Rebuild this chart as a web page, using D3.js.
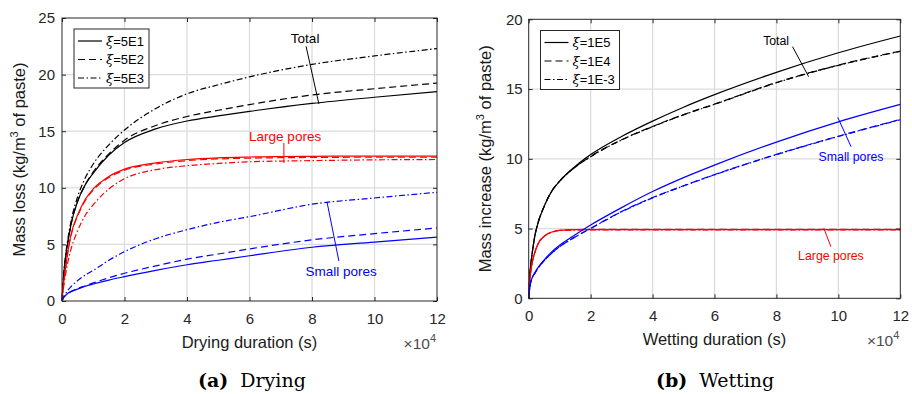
<!DOCTYPE html>
<html>
<head>
<meta charset="utf-8">
<script src="https://cdn.jsdelivr.net/npm/d3@7"></script>
<style>
  body { margin: 0; background: #fff; }
  svg { display: block; font-family: "Liberation Sans", Arial, sans-serif; }
</style>
</head>
<body>
<svg id="chart" width="912" height="394"></svg>
<script>
// time axis, units of 1e4 s
let timeGrid = [0, 0.05, 0.1, 0.2, 0.3, 0.5, 0.75, 1, 1.5, 2, 3, 4, 5, 6, 8, 10, 12];

// (a) drying, mass loss (kg/m3)
let dryTotal5E1 = [0, 2.2, 3.5, 5.4, 6.9, 8.8, 10.3, 11.3, 12.9, 14.0, 15.2, 15.9, 16.35, 16.75, 17.45, 18.0, 18.5];
let dryTotal5E2 = [0, 2.2, 3.5, 5.4, 6.9, 8.8, 10.3, 11.4, 13.0, 14.2, 15.5, 16.3, 16.85, 17.35, 18.2, 18.75, 19.25];
let dryTotal5E3 = [0, 2.3, 3.7, 5.7, 7.2, 9.2, 10.9, 12.1, 13.8, 15.1, 17.0, 18.3, 19.1, 19.8, 20.9, 21.65, 22.3];
let dryLarge5E1 = [0, 1.5, 2.6, 4.6, 6.0, 7.6, 9.0, 9.9, 11.0, 11.65, 12.2, 12.5, 12.65, 12.72, 12.78, 12.8, 12.8];
let dryLarge5E2 = [0, 1.5, 2.6, 4.5, 5.9, 7.5, 8.9, 9.8, 10.9, 11.55, 12.1, 12.4, 12.55, 12.62, 12.68, 12.7, 12.7];
let dryLarge5E3 = [0, 1.2, 2.1, 3.6, 4.7, 6.2, 7.6, 8.5, 9.9, 10.8, 11.6, 11.95, 12.15, 12.3, 12.4, 12.47, 12.5];
let drySmall5E1 = [0, 0.3, 0.45, 0.7, 0.85, 1.05, 1.3, 1.5, 1.85, 2.15, 2.7, 3.2, 3.6, 4.0, 4.75, 5.2, 5.65];
let drySmall5E2 = [0, 0.3, 0.45, 0.7, 0.85, 1.1, 1.35, 1.6, 2.05, 2.45, 3.1, 3.7, 4.15, 4.6, 5.4, 5.95, 6.45];
let drySmall5E3 = [0, 0.35, 0.6, 1.0, 1.3, 1.8, 2.3, 2.7, 3.6, 4.36, 5.5, 6.3, 6.95, 7.45, 8.55, 9.1, 9.6];

// (b) wetting, mass increase (kg/m3)
let wetTotal1E5 = [0, 2.0, 3.0, 4.5, 5.4, 6.6, 7.7, 8.4, 9.45, 10.3, 11.6, 12.7, 13.7, 14.6, 16.2, 17.6, 18.8];
let wetTotal1E4 = [0, 2.0, 3.0, 4.5, 5.4, 6.6, 7.7, 8.4, 9.4, 10.17, 11.37, 12.32, 13.17, 13.92, 15.47, 16.72, 17.72];
let wetTotal1Em3 = [0, 2.0, 3.0, 4.5, 5.4, 6.6, 7.7, 8.4, 9.4, 10.15, 11.35, 12.3, 13.15, 13.9, 15.45, 16.7, 17.7];
let wetLarge1E5 = [0, 1.6, 2.4, 3.3, 3.9, 4.45, 4.75, 4.87, 4.92, 4.93, 4.93, 4.93, 4.93, 4.93, 4.93, 4.93, 4.93];
let wetLarge1E4 = [0, 1.6, 2.4, 3.3, 3.9, 4.45, 4.76, 4.88, 4.93, 4.95, 4.95, 4.95, 4.95, 4.95, 4.95, 4.95, 4.95];
let wetLarge1Em3 = [0, 1.6, 2.4, 3.3, 3.9, 4.44, 4.73, 4.85, 4.89, 4.9, 4.9, 4.9, 4.9, 4.9, 4.9, 4.9, 4.9];
let wetSmall1E5 = [0, 1.0, 1.4, 1.85, 2.2, 2.75, 3.35, 3.8, 4.55, 5.25, 6.5, 7.65, 8.65, 9.55, 11.2, 12.65, 13.9];
let wetSmall1E4 = [0, 1.0, 1.4, 1.8, 2.15, 2.7, 3.25, 3.7, 4.4, 5.02, 6.22, 7.22, 8.07, 8.87, 10.32, 11.62, 12.82];
let wetSmall1Em3 = [0, 1.0, 1.4, 1.8, 2.15, 2.7, 3.25, 3.7, 4.4, 5.0, 6.2, 7.2, 8.05, 8.85, 10.3, 11.6, 12.8];

let xTicks = [0, 2, 4, 6, 8, 10, 12];
let dryYTicks = [0, 5, 10, 15, 20, 25];
let wetYTicks = [0, 5, 10, 15, 20];
let dryLegend = ['5E1', '5E2', '5E3'];
let wetLegend = ['1E5', '1E4', '1E-3'];

let dashes = ['none', '7,4', '6,2.5,1.5,2.5'];

let svg = d3.select('#chart');

let drawPanel = function(opt){
  let x = d3.scaleLinear().domain([0, 12]).range([opt.left, opt.right]);
  let y = d3.scaleLinear().domain([0, opt.yMax]).range([opt.bottom, opt.top]);
  let g = svg.append('g');

  // grid
  g.selectAll('.vgrid').data(xTicks.slice(1, -1)).enter().append('line')
    .attr('x1', d => x(d)).attr('x2', d => x(d))
    .attr('y1', opt.top).attr('y2', opt.bottom)
    .attr('stroke', '#dcdcdc').attr('stroke-width', 1.3);
  g.selectAll('.hgrid').data(opt.yTicks.slice(1, -1)).enter().append('line')
    .attr('y1', d => y(d)).attr('y2', d => y(d))
    .attr('x1', opt.left).attr('x2', opt.right)
    .attr('stroke', '#dcdcdc').attr('stroke-width', 1.3);

  // curves
  let line = d3.line().x((d, i) => x(timeGrid[i])).y(d => y(d)).curve(d3.curveMonotoneX);
  opt.series.forEach(s => {
    g.append('path').datum(s.values)
      .attr('d', line)
      .attr('fill', 'none')
      .attr('stroke', s.color)
      .attr('stroke-width', 1.2)
      .attr('stroke-dasharray', s.dash);
  });

  // axes, MATLAB style inward ticks on all sides
  let ax = g.append('g').attr('transform', 'translate(0,' + opt.bottom + ')')
    .call(d3.axisBottom(x).tickValues(xTicks).tickSize(-4).tickPadding(12).tickFormat(d3.format('d')));
  let ay = g.append('g').attr('transform', 'translate(' + opt.left + ',0)')
    .call(d3.axisLeft(y).tickValues(opt.yTicks).tickSize(-4).tickPadding(opt.yPad));
  let at = g.append('g').attr('transform', 'translate(0,' + opt.top + ')')
    .call(d3.axisTop(x).tickValues(xTicks).tickSize(-4).tickFormat(''));
  let ar = g.append('g').attr('transform', 'translate(' + opt.right + ',0)')
    .call(d3.axisRight(y).tickValues(opt.yTicks).tickSize(-4).tickFormat(''));
  [ax, ay, at, ar].forEach(a => {
    a.select('.domain').remove();
    a.selectAll('line').attr('stroke', '#262626');
    a.selectAll('text').attr('fill', '#262626').style('font-size', '15px').style('font-family', '"Liberation Sans", Arial, sans-serif');
  });
  g.append('rect')
    .attr('x', opt.left).attr('y', opt.top)
    .attr('width', opt.right - opt.left).attr('height', opt.bottom - opt.top)
    .attr('fill', 'none').attr('stroke', '#262626').attr('stroke-width', 1);

  // axis titles
  g.append('text')
    .attr('x', (opt.left + opt.right) / 2).attr('y', opt.bottom + 47)
    .attr('text-anchor', 'middle').style('font-size', '16.5px').attr('fill', '#1a1a1a')
    .text(opt.xLabel);
  let yl = g.append('text')
    .attr('transform', 'translate(' + opt.yLabelX + ',' + ((opt.top + opt.bottom) / 2) + ') rotate(-90)')
    .attr('text-anchor', 'middle').style('font-size', '16.5px').attr('fill', '#1a1a1a');
  yl.append('tspan').text(opt.yLabel + ' (kg/m');
  yl.append('tspan').attr('dy', -7).style('font-size', '11px').text('3');
  yl.append('tspan').attr('dy', 7).text(' of paste)');

  // x10^4 exponent
  let ex = g.append('text')
    .attr('x', opt.right - 1).attr('y', opt.bottom + 48)
    .attr('text-anchor', 'end').style('font-size', '15.5px').attr('fill', '#4d4d4d');
  ex.append('tspan').text('\u00d710');
  ex.append('tspan').attr('dy', -7).style('font-size', '11px').text('4');

  // legend
  let lg = g.append('g').attr('transform', 'translate(' + opt.legend[0] + ',' + opt.legend[1] + ')');
  lg.append('rect').attr('width', opt.legend[2]).attr('height', 59)
    .attr('fill', '#fff').attr('stroke', '#262626').attr('stroke-width', 1);
  opt.legendNames.forEach((name, i) => {
    let yy = 12 + i * 18.5;
    lg.append('line').attr('x1', 4).attr('x2', 28).attr('y1', yy).attr('y2', yy)
      .attr('stroke', '#000').attr('stroke-width', 1.2).attr('stroke-dasharray', dashes[i]);
    let t = lg.append('text').attr('x', 32).attr('y', yy + 4.7).style('font-size', '13px').attr('fill', '#000');
    t.append('tspan').style('font-family', '"DejaVu Serif", serif').style('font-style', 'italic').text('\u03be');
    t.append('tspan').text('=' + name);
  });

  // annotations
  opt.notes.forEach(n => {
    g.append('line')
      .attr('x1', x(n.line[0])).attr('y1', y(n.line[1]))
      .attr('x2', x(n.line[2])).attr('y2', y(n.line[3]))
      .attr('stroke', n.color).attr('stroke-width', 1);
    g.append('text')
      .attr('x', x(n.at[0])).attr('y', y(n.at[1]))
      .attr('text-anchor', 'middle').style('font-size', opt.noteSize).attr('fill', n.color)
      .text(n.text);
  });

  // caption
  let cap = g.append('text')
    .attr('x', opt.caption[0]).attr('y', opt.caption[1])
    .style('font-family', '"DejaVu Serif", serif').style('font-size', '19px').attr('fill', '#000');
  cap.append('tspan').style('font-weight', 'bold').text(opt.captionTag);
  cap.append('tspan').attr('dx', 12).text(opt.captionText);
};

drawPanel({
  left: 62, right: 437, top: 18, bottom: 301, yMax: 25, yTicks: dryYTicks, yPad: 7,
  xLabel: 'Drying duration (s)', yLabel: 'Mass loss', yLabelX: 25,
  legend: [74, 29, 75], legendNames: dryLegend,
  series: [
    {values: dryTotal5E1, color: '#000', dash: dashes[0]},
    {values: dryTotal5E2, color: '#000', dash: dashes[1]},
    {values: dryTotal5E3, color: '#000', dash: dashes[2]},
    {values: dryLarge5E1, color: '#ff0000', dash: dashes[0]},
    {values: dryLarge5E2, color: '#ff0000', dash: dashes[1]},
    {values: dryLarge5E3, color: '#ff0000', dash: dashes[2]},
    {values: drySmall5E1, color: '#0000ff', dash: dashes[0]},
    {values: drySmall5E2, color: '#0000ff', dash: dashes[1]},
    {values: drySmall5E3, color: '#0000ff', dash: dashes[2]}
  ],
  noteSize: '13.5px',
  notes: [
    {text: 'Total', color: '#000', at: [7.78, 22.8], line: [7.81, 22.5, 8.22, 17.4]},
    {text: 'Large pores', color: '#ff0000', at: [7.14, 14.13], line: [7.1, 13.96, 7.1, 12.19]},
    {text: 'Small pores', color: '#0000ff', at: [8.93, 2.2], line: [8.48, 8.75, 8.86, 3.53]}
  ],
  caption: [198, 387], captionTag: '(a)', captionText: 'Drying'
});

drawPanel({
  left: 528.7, right: 900.3, top: 19.3, bottom: 298.3, yMax: 20, yTicks: wetYTicks, yPad: 6,
  xLabel: 'Wetting duration (s)', yLabel: 'Mass increase', yLabelX: 491,
  legend: [540.5, 30.5, 79], legendNames: wetLegend,
  series: [
    {values: wetTotal1E5, color: '#000', dash: dashes[0]},
    {values: wetTotal1E4, color: '#000', dash: dashes[1]},
    {values: wetTotal1Em3, color: '#000', dash: dashes[2]},
    {values: wetLarge1E5, color: '#ff0000', dash: dashes[0]},
    {values: wetLarge1E4, color: '#ff0000', dash: dashes[1]},
    {values: wetLarge1Em3, color: '#ff0000', dash: dashes[2]},
    {values: wetSmall1E5, color: '#0000ff', dash: dashes[0]},
    {values: wetSmall1E4, color: '#0000ff', dash: dashes[1]},
    {values: wetSmall1Em3, color: '#0000ff', dash: dashes[2]}
  ],
  noteSize: '12.3px',
  notes: [
    {text: 'Total', color: '#000', at: [7.99, 18.16], line: [8.52, 18.04, 9.04, 15.89]},
    {text: 'Small pores', color: '#0000ff', at: [10.41, 9.81], line: [9.98, 12.97, 10.41, 10.87]},
    {text: 'Large pores', color: '#ff0000', at: [9.76, 2.71], line: [9.53, 5.02, 9.76, 3.70]}
  ],
  caption: [656, 387], captionTag: '(b)', captionText: 'Wetting'
});
</script>
</body>
</html>
